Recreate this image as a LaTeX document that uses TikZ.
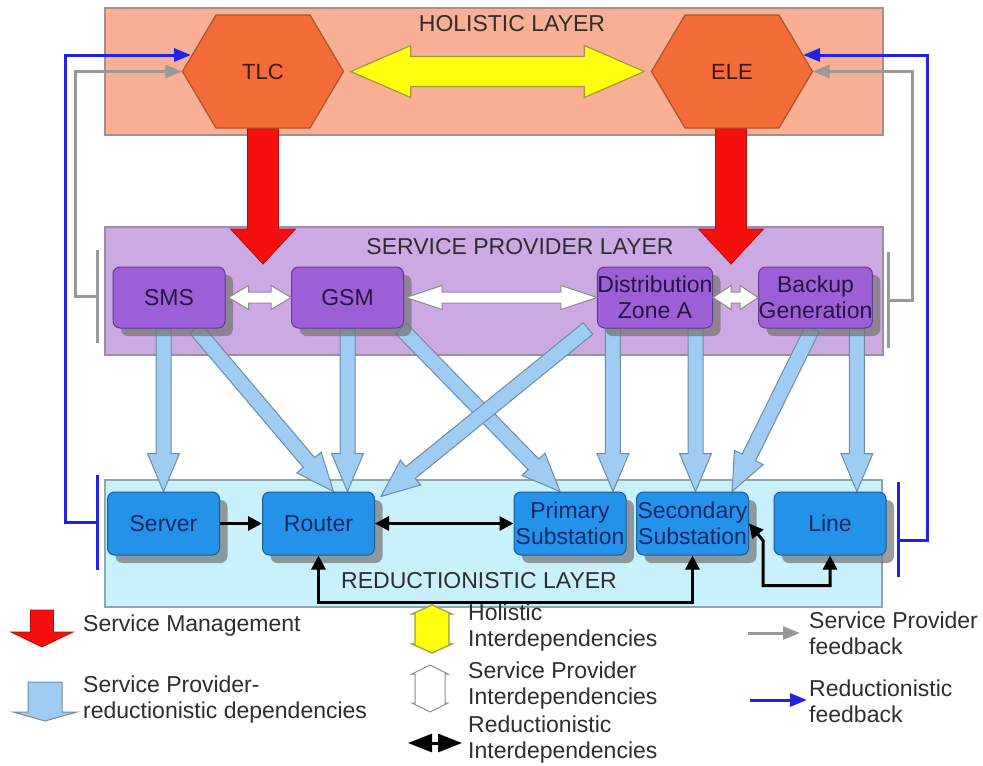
\documentclass[tikz,border=0pt]{standalone}
\usepackage{fontspec}
\setmainfont{Liberation Sans}
\usetikzlibrary{calc,arrows.meta,shadows}
\pgfdeclarelayer{bg}
\pgfsetlayers{bg,main}
\definecolor{holF}{HTML}{F8AF93}
\definecolor{holD}{HTML}{A89088}
\definecolor{spF}{HTML}{CBA9E3}
\definecolor{spD}{HTML}{9C8CA8}
\definecolor{rdF}{HTML}{C8F1FB}
\definecolor{rdD}{HTML}{8FA7AE}
\definecolor{hexF}{HTML}{F36B36}
\definecolor{hexD}{HTML}{A9552C}
\definecolor{hexT}{HTML}{3B1A0E}
\definecolor{pbF}{HTML}{9C5FD8}
\definecolor{pbD}{HTML}{5E3D8C}
\definecolor{pbT}{HTML}{26163F}
\definecolor{bbF}{HTML}{2592EA}
\definecolor{bbD}{HTML}{195C9C}
\definecolor{bbT}{HTML}{0C2B66}
\definecolor{lbF}{HTML}{9FCCF2}
\definecolor{lbD}{HTML}{6E8CA6}
\definecolor{ylF}{HTML}{FFFF10}
\definecolor{ylD}{HTML}{9C9C3C}
\definecolor{rdA}{HTML}{F50F0F}
\definecolor{fbG}{HTML}{999999}
\definecolor{fbB}{HTML}{2222E6}
\definecolor{txt}{HTML}{2E2E2E}

% single fat arrow: [style]{start}{end}{half shaft}{half head}{head length}
\newcommand\fatarrow[6][]{%
  \coordinate (fahb) at ($(#3)!#6!(#2)$);
  \draw[#1] ($(#2)!#4!90:(#3)$) -- ($(fahb)!#4!90:(#3)$) -- ($(fahb)!#5!90:(#3)$) -- (#3)
    -- ($(fahb)!#5!-90:(#3)$) -- ($(fahb)!#4!-90:(#3)$) -- ($(#2)!#4!-90:(#3)$) -- cycle;}
% double fat arrow
\newcommand\fatdarrow[6][]{%
  \coordinate (fda) at ($(#2)!#6!(#3)$);
  \coordinate (fdb) at ($(#3)!#6!(#2)$);
  \draw[#1] (#2) -- ($(fda)!#5!90:(#3)$) -- ($(fda)!#4!90:(#3)$) -- ($(fdb)!#4!90:(#3)$)
    -- ($(fdb)!#5!90:(#3)$) -- (#3) -- ($(fdb)!#5!-90:(#3)$) -- ($(fdb)!#4!-90:(#3)$)
    -- ($(fda)!#4!-90:(#3)$) -- ($(fda)!#5!-90:(#3)$) -- cycle;}

\tikzset{
  BT/.tip={Triangle[length=14pt,width=14pt]},
  FB/.tip={Triangle[length=17pt,width=13pt]},
  LK/.tip={Triangle[length=24pt,width=18pt]},
  layerrect/.style 2 args={fill=#1, draw=#2, line width=1.2pt, inner sep=0pt,
    minimum width=778pt, minimum height=127pt},
  layertext/.style={font=\fontsize{23}{26}\selectfont, text=txt, inner sep=0pt},
  hexst/.style={fill=hexF, draw=hexD, line width=1.2pt, line join=round},
  hexlabel/.style={minimum width=161pt, minimum height=113pt, inner sep=0pt,
    font=\fontsize{22}{26}\selectfont, text=hexT},
  boxbase/.style={rounded corners=7pt, line width=1pt, minimum width=112pt,
    inner sep=0pt, align=center, font=\fontsize{23}{26}\selectfont,
    drop shadow={shadow xshift=8pt, shadow yshift=-8pt, fill=black!55, opacity=.7}},
  pbox/.style={boxbase, fill=pbF, draw=pbD, text=pbT, minimum height=61pt},
  bbox/.style={boxbase, fill=bbF, draw=bbD, text=bbT, minimum height=63pt},
  lbarrow/.style={fill=lbF, draw=lbD, line width=1pt},
  redarrow/.style={fill=rdA, draw=rdA!75!black, line width=.8pt},
  yelarrow/.style={fill=ylF, draw=ylD, line width=1.2pt},
  whtarrow/.style={fill=white, draw=black!45, line width=1pt},
  blk1/.style={draw=black, line width=3pt, -BT},
  blk2/.style={draw=black, line width=3pt, BT-BT},
  fbline/.style={line width=3pt},
  lgtxt/.style={anchor=west, align=left, inner sep=0pt,
    font=\fontsize{23}{26}\selectfont, text=txt}
}

\begin{document}
\begin{tikzpicture}[x=1pt,y=-1pt]
\useasboundingbox (0,0) rectangle (983,766);

% ---------- hexagons (holistic layer) ----------
\coordinate (tlcC) at (263,71.5);
\coordinate (eleC) at (732,71.5);
\draw[hexst] (tlcC) +(-80.5,0) -- +(-47,-56.5) -- +(47,-56.5) -- +(80.5,0) -- +(47,56.5) -- +(-47,56.5) -- cycle;
\draw[hexst] (eleC) +(-80.5,0) -- +(-47,-56.5) -- +(47,-56.5) -- +(80.5,0) -- +(47,56.5) -- +(-47,56.5) -- cycle;
\node[hexlabel] (tlc) at (tlcC) {TLC};
\node[hexlabel] (ele) at (eleC) {ELE};

% ---------- service provider boxes ----------
\node[pbox] (sms) at (169,297.5) {SMS};
\node[pbox] (gsm) at (347.5,297.5) {GSM};
\node[pbox] (dist) at (655,297.5) {Distribution\\Zone A};
\node[pbox] (backup) at (815.5,297.5) {Backup\\Generation};

% ---------- reductionistic boxes ----------
\node[bbox] (server) at (163.5,523.5) {Server};
\node[bbox] (router) at (318.5,523.5) {Router};
\node[bbox] (primary) at (570,523.5) {Primary\\Substation};
\node[bbox] (secondary) at (692.5,523.5) {Secondary\\Substation};
\node[bbox] (line) at (830,523.5) {Line};

% ---------- background layer ----------
\begin{pgfonlayer}{bg}
\fill[white] (0,0) rectangle (983,766);
\node[layerrect={holF}{holD}] (hol) at (494,71.5) {};
\node[layerrect={spF}{spD}, minimum height=128pt] (spl) at (494,291) {};
\node[layerrect={rdF}{rdD}, minimum width=777pt] (rdl) at (493.5,543.5) {};
\node[layertext] (holT) at (512,23.5) {HOLISTIC LAYER};
\node[layertext] (splT) at (520,247) {SERVICE PROVIDER LAYER};
\node[layertext] (rdlT) at (479,581) {REDUCTIONISTIC LAYER};

% service management (red)
\coordinate (tlcR) at (tlc.south |- 0,264);
\coordinate (eleR) at ([xshift=-1pt]ele.south |- 0,264);
\coordinate (eleS) at ([xshift=-1pt]ele.south);
\fatarrow[redarrow]{tlc.south}{tlcR}{15.5pt}{32.5pt}{35pt}
\fatarrow[redarrow]{eleS}{eleR}{15.5pt}{32.5pt}{35pt}

% service provider - reductionistic dependencies (light blue)
\coordinate (a1s) at (sms.south -| server.north);
\coordinate (a2s) at ([xshift=-30pt]sms.south east);
\coordinate (a2e) at ([xshift=15pt]router.north);
\coordinate (a3e) at (gsm.south |- router.north);
\coordinate (a4s) at ([xshift=-3pt]gsm.south east);
\coordinate (a4e) at ([xshift=-10pt]primary.north);
\coordinate (a5s) at ([xshift=-9pt]dist.south west);
\coordinate (a5e) at ([xshift=6pt,yshift=-5pt]router.north east);
\coordinate (a6s) at ([xshift=16pt]dist.south west);
\coordinate (a6e) at (a6s |- primary.north);
\coordinate (a7e) at ([xshift=3pt]secondary.north);
\coordinate (a7s) at (dist.south -| a7e);
\coordinate (a8s) at ([xshift=-3pt]backup.south);
\coordinate (a8e) at ([xshift=-17pt]secondary.north east);
\coordinate (a9s) at ([xshift=-16pt]backup.south east);
\coordinate (a9e) at (a9s |- line.north);
\fatarrow[lbarrow]{a1s}{server.north}{7.5pt}{16pt}{38pt}
\fatarrow[lbarrow]{a2s}{a2e}{7.5pt}{16pt}{38pt}
\fatarrow[lbarrow]{gsm.south}{a3e}{7.5pt}{16pt}{38pt}
\fatarrow[lbarrow]{a4s}{a4e}{7.5pt}{16pt}{38pt}
\fatarrow[lbarrow]{a5s}{a5e}{7.5pt}{16pt}{38pt}
\fatarrow[lbarrow]{a6s}{a6e}{7.5pt}{16pt}{38pt}
\fatarrow[lbarrow]{a7s}{a7e}{7.5pt}{16pt}{38pt}
\fatarrow[lbarrow]{a8s}{a8e}{7.5pt}{16pt}{38pt}
\fatarrow[lbarrow]{a9s}{a9e}{7.5pt}{16pt}{38pt}
\end{pgfonlayer}

% ---------- holistic interdependency (yellow) ----------
\coordinate (yA) at ([xshift=7pt]tlc.east);
\coordinate (yB) at ([xshift=-7pt]ele.west);
\fatdarrow[yelarrow]{yA}{yB}{15pt}{26pt}{60pt}

% ---------- service provider interdependencies (white) ----------
\coordinate (w1a) at ([xshift=3pt]sms.east);
\coordinate (w2a) at ([xshift=2pt]gsm.east);
\fatdarrow[whtarrow]{w1a}{gsm.west}{5.5pt}{12pt}{20pt}
\fatdarrow[whtarrow]{w2a}{dist.west}{5.5pt}{12pt}{36pt}
\fatdarrow[whtarrow]{dist.east}{backup.west}{5.5pt}{12pt}{18pt}

% ---------- reductionistic interdependencies (black) ----------
\draw[blk1] (server.east) -- (router.west);
\draw[blk2] (router.east) -- (primary.west);
\draw[blk2] (router.south) -- (router.south |- 0,602) -| (secondary.south);
\draw[blk2] (secondary.east) -- ++(14,17) -- ++(0,45) -| (line.south);

% ---------- feedback lines ----------
\coordinate (gLt) at (97,250); \coordinate (gLb) at (97,343); \coordinate (gLm) at (97,296);
\coordinate (bLt) at (97,475); \coordinate (bLb) at (97,570); \coordinate (bLm) at (97,522);
\coordinate (gRt) at (888,252); \coordinate (gRb) at (888,348); \coordinate (gRm) at (888,300);
\coordinate (bRt) at (898,482); \coordinate (bRb) at (898,577); \coordinate (bRm) at (898,540);
\coordinate (tlcB) at (191,55);
\coordinate (eleB) at (803,55);
\draw[fbline, draw=fbG] (gLt) -- (gLb);
\draw[fbline, draw=fbG] (gRt) -- (gRb);
\draw[fbline, draw=fbB] (bLt) -- (bLb);
\draw[fbline, draw=fbB] (bRt) -- (bRb);
\draw[fbline, draw=fbG, -FB] (gLm) -- ++(-22,0) |- (tlc.west);
\draw[fbline, draw=fbG, -FB] (gRm) -- ++(24,0) |- (ele.east);
\draw[fbline, draw=fbB, -FB] (bLm) -- ++(-32,0) |- (tlcB);
\draw[fbline, draw=fbB, -FB] (bRm) -- ++(29,0) |- (eleB);

% ---------- legend ----------
\coordinate (lgRa) at (42,610); \coordinate (lgRb) at (42,647);
\fatarrow[redarrow]{lgRa}{lgRb}{11.5pt}{31pt}{15pt}
\coordinate (lgBa) at (45,682); \coordinate (lgBb) at (45,721);
\fatarrow[lbarrow]{lgBa}{lgBb}{17pt}{32pt}{9pt}
\coordinate (lgYa) at (432,605); \coordinate (lgYb) at (432,653);
\fatdarrow[yelarrow]{lgYa}{lgYb}{17pt}{20pt}{9pt}
\coordinate (lgWa) at (430,665); \coordinate (lgWb) at (430,712);
\fatdarrow[whtarrow]{lgWa}{lgWb}{15pt}{18pt}{9pt}
\coordinate (lgKa) at (408,743); \coordinate (lgKb) at (462,743);
\draw[line width=3pt, LK-LK] (lgKa) -- (lgKb);
\coordinate (lgGa) at (748,633); \coordinate (lgGb) at (800,633);
\draw[fbline, draw=fbG, -FB] (lgGa) -- (lgGb);
\coordinate (lgFa) at (750,700); \coordinate (lgFb) at (807,700);
\draw[fbline, draw=fbB, -FB] (lgFa) -- (lgFb);

\node[lgtxt] (lt1) at (83,626) {Service Management};
\node[lgtxt] (lt2) at (83,700) {Service Provider-\\reductionistic dependencies};
\node[lgtxt] (lt3) at (468,628) {Holistic\\Interdependencies};
\node[lgtxt] (lt4) at (468,686) {Service Provider\\Interdependencies};
\node[lgtxt] (lt5) at (468,740) {Reductionistic\\Interdependencies};
\node[lgtxt] (lt6) at (809,633) {Service Provider\\feedback};
\node[lgtxt] (lt7) at (809,701) {Reductionistic\\feedback};
\end{tikzpicture}
\end{document}
